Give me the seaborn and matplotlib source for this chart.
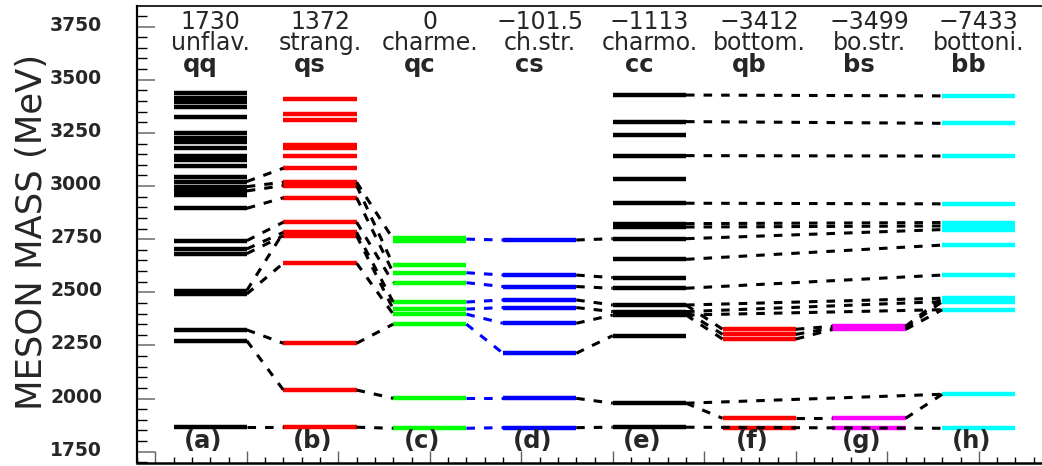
import matplotlib
matplotlib.use("Agg")
import matplotlib.pyplot as plt
from matplotlib.ticker import MultipleLocator, FixedLocator, NullFormatter
from matplotlib.transforms import ScaledTranslation
import numpy as np
import pandas as pd
import seaborn as sns

# Column headers: mass shift applied to each family, family name, quark content
shifts = ["1730", "1372", "0", "\u2212101.5", "\u22121113", "\u22123412", "\u22123499", "\u22127433"]
families = ["unflav.", "strang.", "charme.", "ch.str.", "charmo.", "bottom.", "bo.str.", "bottoni."]
flavours = ["qq", "qs", "qc", "cs", "cc", "qb", "bs", "bb"]
panels = ["(a)", "(b)", "(c)", "(d)", "(e)", "(f)", "(g)", "(h)"]
colours = ["black", "red", "#00ff00", "blue", "black", "red", "magenta", "cyan"]

# Shifted meson masses (MeV), one list per column
levels_a = [3436, 3416, 3397, 3372, 3324, 3248, 3228, 3206, 3178, 3143, 3123, 3094,
            3044, 3021, 2997, 2977, 2958, 2895, 2743, 2704, 2682, 2508, 2492, 2323, 2272, 1865]
levels_b = [3410, 3339, 3312, 3193, 3178, 3141, 3084, 3018, 3002, 2945, 2830, 2782, 2766,
            2637, 2260, 2040, 1865]
levels_c = [2756, 2742, 2629, 2592, 2545, 2454, 2421, 2397, 2350, 2001, 1860]
levels_d = [2746, 2581, 2527, 2464, 2428, 2354, 2213, 2001, 1863]
levels_e = [3428, 3303, 3240, 3143, 3033, 2919, 2823, 2807, 2752, 2655, 2569, 2519, 2440,
            2409, 2393, 2296, 1978, 1865]
levels_f = [2326, 2302, 2280, 1907, 1860]
levels_g = [2340, 2332, 2325, 1907, 1863]
levels_h = [3424, 3295, 3141, 2916, 2828, 2812, 2795, 2722, 2581, 2472, 2456, 2418, 2020, 1860]
levels = [levels_a, levels_b, levels_c, levels_d, levels_e, levels_f, levels_g, levels_h]

# Dashed correspondences: (mass in left column, mass in right column)
links_ab = [(3021, 3084), (2997, 3018), (2977, 3002), (2895, 2945), (2743, 2830), (2704, 2782),
            (2682, 2766), (2508, 2782), (2492, 2637), (2323, 2260), (2272, 2040), (1865, 1865)]
links_bc = [(3018, 2750), (3002, 2629), (2945, 2592), (2830, 2545), (2782, 2454), (2766, 2421),
            (2637, 2397), (2260, 2350), (2040, 2001), (1865, 1860)]
links_cd = [(2750, 2746), (2592, 2581), (2545, 2527), (2454, 2464), (2421, 2428), (2397, 2354),
            (2350, 2213), (2001, 2001), (1860, 1863)]
links_de = [(2746, 2752), (2581, 2569), (2527, 2519), (2464, 2440), (2428, 2409), (2354, 2393),
            (2213, 2296), (2001, 1978), (1863, 1865)]
links_eh = [(3428, 3424), (3303, 3295), (3143, 3141), (2919, 2916), (2823, 2828), (2807, 2812),
            (2752, 2795), (2655, 2722), (2519, 2581), (2440, 2472), (2409, 2456), (2393, 2418),
            (1978, 2020), (1865, 1860)]
links_ef = [(2440, 2326), (2409, 2302), (2393, 2280), (1978, 1907)]
links_fg = [(2326, 2340), (2302, 2332), (2280, 2325), (1907, 1907)]
links_gh = [(2340, 2472), (2332, 2456), (2325, 2418), (1907, 2020)]
link_sets = [(0, 1, links_ab, "black"), (1, 2, links_bc, "black"), (2, 3, links_cd, "blue"),
             (3, 4, links_de, "black"), (4, 7, links_eh, "black"), (4, 5, links_ef, "black"),
             (5, 6, links_fg, "black"), (6, 7, links_gh, "black")]


def left_end(i):
    return 3 * i + 1


def right_end(i):
    return 3 * i + 3


sns.set_style("ticks")
plt.rcParams["font.family"] = ["DejaVu Sans"]

W, H = 1042, 466
fig = plt.figure(figsize=(W / 100, H / 100), dpi=100)
ax = fig.add_axes([137 / W, 3.5 / H, (W - 137) / W, 456.5 / H])

# energy levels as short horizontal segments
rows = []
for i, col in enumerate(levels):
    for k, m in enumerate(col):
        uid = f"{i}-{k}"
        rows.append((uid, panels[i], left_end(i), m))
        rows.append((uid, panels[i], right_end(i), m))
bars = pd.DataFrame(rows, columns=["uid", "panel", "x", "mass"])
sns.lineplot(data=bars, x="x", y="mass", hue="panel", palette=dict(zip(panels, colours)),
             units="uid", estimator=None, sort=False, linewidth=3.2,
             solid_capstyle="butt", legend=False, ax=ax, zorder=2)

# dashed lines joining corresponding states
rows = []
for i, j, pairs, colour in link_sets:
    for k, (m0, m1) in enumerate(pairs):
        uid = f"{i}{j}-{k}"
        rows.append((uid, colour, right_end(i), m0))
        rows.append((uid, colour, left_end(j), m1))
links = pd.DataFrame(rows, columns=["uid", "colour", "x", "mass"])
sns.lineplot(data=links, x="x", y="mass", hue="colour",
             palette={"black": "black", "blue": "blue"},
             units="uid", estimator=None, sort=False, linewidth=2.2,
             linestyle=(0, (2.8, 2.95)), dash_capstyle="butt",
             legend=False, ax=ax, zorder=3)

ax.set_xlim(0, (W - 137) / 36.6)
ax.set_ylim(1699, 3847)
ax.set_xlabel("")

ax.set_yticks(np.arange(1750, 3751, 250))
ax.yaxis.set_minor_locator(MultipleLocator(50))
ax.xaxis.set_major_locator(FixedLocator(np.arange(0.5, 24.6, 2.5)))
ax.xaxis.set_minor_locator(MultipleLocator(0.5))
ax.xaxis.set_major_formatter(NullFormatter())
ax.tick_params(axis="y", which="major", direction="in", length=13, width=1.3,
               color="#808080", labelsize=13.5, pad=25)
ax.tick_params(axis="y", which="minor", direction="in", length=7, width=1.0, color="black")
ax.tick_params(axis="x", which="major", direction="in", length=9, width=1.0, color="#606060")
ax.tick_params(axis="x", which="minor", direction="in", length=4.5, width=1.0, color="black")
shift_up = ScaledTranslation(0, 0.035, fig.dpi_scale_trans)
for lab in ax.yaxis.get_majorticklabels():
    lab.set_fontweight("bold")
    lab.set_transform(lab.get_transform() + shift_up)

ax.spines["right"].set_visible(False)
ax.spines["top"].set_linewidth(1.2)
ax.spines["left"].set_linewidth(1.6)
ax.spines["bottom"].set_linewidth(1.8)
for s in ax.spines.values():
    s.set_color("black")

ax.set_ylabel("")
fig.text(32 / W, 1 - 232 / H, "MESON MASS (MeV)", rotation=90, ha="center", va="center",
         fontsize=25.5)

for i in range(len(panels)):
    c = 3 * i + 2
    ax.text(c, 3617, f"{shifts[i]}\n{families[i]}", ha="center", va="bottom",
            fontsize=17, linespacing=0.86, multialignment="center")
    ax.text(c - 0.28, 3536, flavours[i], ha="center", va="baseline", fontsize=17.5,
            fontweight="bold")
    ax.text(c - 0.2, 1768, panels[i], ha="center", va="baseline", fontsize=17.5,
            fontweight="bold")

fig.savefig("out.png", dpi=100)
